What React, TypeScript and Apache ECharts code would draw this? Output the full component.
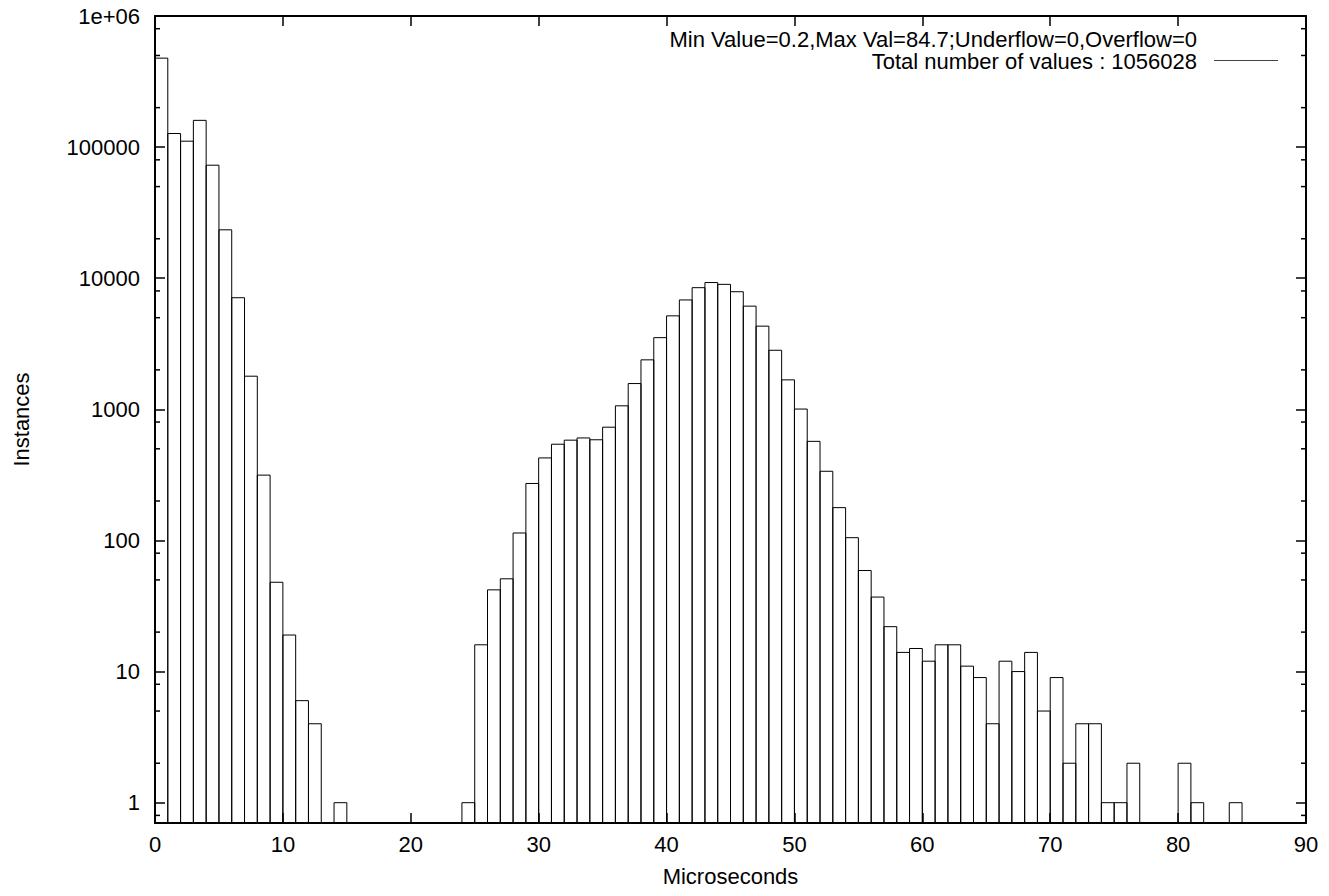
import React, { useEffect, useRef } from 'react';
import * as echarts from 'echarts';

// Histogram bins (start of each 1-microsecond bin) and their counts
const binStarts = [
  0, 1, 2, 3, 4, 5, 6, 7, 8, 9, 10, 11, 12, 14,
  24, 25, 26, 27, 28, 29, 30, 31, 32, 33, 34, 35, 36, 37, 38, 39, 40, 41, 42, 43, 44,
  45, 46, 47, 48, 49, 50, 51, 52, 53, 54, 55, 56, 57, 58, 59, 60, 61, 62, 63, 64,
  65, 66, 67, 68, 69, 70, 71, 72, 73, 74, 75, 76, 80, 81, 84,
];
const counts = [
  477000, 127000, 111000, 160000, 72800, 23400, 7100, 1790, 315, 48, 19, 6, 4, 1,
  1, 16, 42, 51, 114, 272, 426, 542, 582, 605, 586, 731, 1064, 1573, 2385, 3522, 5165, 6830, 8470, 9270, 8980,
  7890, 6125, 4310, 2822, 1678, 1005, 570, 337, 178, 105, 59, 37, 22, 14, 15, 12, 16, 16, 11, 9,
  4, 12, 10, 14, 5, 9, 2, 4, 4, 1, 1, 2, 2, 1, 1,
];
const binWidth = 1;

const xMin = 0;
const xMax = 90;
const xInterval = 10;
const yMin = 0.7;
const yMax = 1e6;
const yTickLabels = ['1', '10', '100', '1000', '10000', '100000', '1e+06'];
const minorMultipliers = [2, 5, 8];

const keyTitle = 'Min Value=0.2,Max Val=84.7;Underflow=0,Overflow=0';
const keyEntry = 'Total number of values : 1056028';
const xName = 'Microseconds';
const yName = 'Instances';

const FONT = '"Liberation Sans", Arial, Helvetica, sans-serif';
const FS = 22;
const KEY_FS = 22;

function yLabel(v: number): string {
  const e = Math.log10(v);
  const r = Math.round(e);
  if (Math.abs(e - r) > 1e-6 || r < 0 || r >= yTickLabels.length) return '';
  return yTickLabels[r];
}

export default function App() {
  const ref = useRef<HTMLDivElement>(null);
  useEffect(() => {
    if (!ref.current) return;
    const chart = echarts.init(ref.current, undefined, { renderer: 'svg' });
    const axisLine = { show: true, onZero: false, lineStyle: { color: '#000', width: 2 } };
    const tickStyle = { show: true, inside: true, length: 10, lineStyle: { color: '#000', width: 1.5 } };
    const baseX = {
      type: 'value' as const,
      min: xMin,
      max: xMax,
      interval: xInterval,
      axisLine,
      axisTick: tickStyle,
      splitLine: { show: false },
    };
    const baseY = {
      type: 'log' as const,
      logBase: 10,
      min: yMin,
      max: yMax,
      axisLine,
      axisTick: tickStyle,
      splitLine: { show: false },
    };
    chart.setOption({
      animation: false,
      backgroundColor: '#fff',
      textStyle: { fontFamily: FONT },
      grid: { left: 155, right: 23, top: 16, bottom: 73, containLabel: false },
      xAxis: [
        {
          ...baseX,
          position: 'bottom',
          name: xName,
          nameLocation: 'middle',
          nameGap: 42,
          nameTextStyle: { color: '#000', fontSize: FS, fontFamily: FONT },
          axisLabel: { color: '#000', fontSize: FS, fontFamily: FONT, margin: 10 },
        },
        { ...baseX, position: 'top', axisLabel: { show: false } },
      ],
      yAxis: [
        {
          ...baseY,
          position: 'left',
          name: yName,
          nameLocation: 'middle',
          nameGap: 123,
          nameRotate: 90,
          nameTextStyle: { color: '#000', fontSize: FS, fontFamily: FONT },
          axisLabel: { color: '#000', fontSize: FS, fontFamily: FONT, margin: 15, formatter: yLabel },
        },
        { ...baseY, position: 'right', axisLabel: { show: false } },
      ],
      series: [
        {
          type: 'custom',
          xAxisIndex: 0,
          yAxisIndex: 0,
          clip: true,
          data: binStarts.map((b, i) => [b, counts[i]]),
          renderItem: (params: any, api: any) => {
            const x0 = api.value(0) as number;
            const v = api.value(1) as number;
            const tl = api.coord([x0, v]);
            const br = api.coord([x0 + binWidth, yMin]);
            return {
              type: 'rect',
              shape: { x: tl[0], y: tl[1], width: br[0] - tl[0], height: br[1] - tl[1] },
              style: { fill: 'rgba(0,0,0,0)', stroke: '#000', lineWidth: 1 },
            };
          },
        },
      ],
    });

    // minor ticks on log axes (2, 5, 8 x 10^k), plus key
    const graphics: any[] = [];
    const leftX = chart.convertToPixel({ xAxisIndex: 0 }, xMin) as number;
    const rightX = chart.convertToPixel({ xAxisIndex: 0 }, xMax) as number;
    for (let k = -1; k < 6; k++) {
      for (const m of minorMultipliers) {
        const v = m * Math.pow(10, k);
        if (v < yMin || v > yMax) continue;
        const y = chart.convertToPixel({ yAxisIndex: 0 }, v) as number;
        graphics.push({ type: 'line', shape: { x1: leftX, y1: y, x2: leftX + 5, y2: y }, style: { stroke: '#000', lineWidth: 1.5 } });
        graphics.push({ type: 'line', shape: { x1: rightX - 5, y1: y, x2: rightX, y2: y }, style: { stroke: '#000', lineWidth: 1.5 } });
      }
    }
    graphics.push({
      type: 'text', x: 1197, y: 39,
      style: { text: keyTitle, fill: '#000', font: `${KEY_FS}px ${FONT}`, lineHeight: 22, textAlign: 'right', textVerticalAlign: 'middle' },
    });
    graphics.push({
      type: 'text', x: 1197, y: 61.5,
      style: { text: keyEntry, fill: '#000', font: `${KEY_FS}px ${FONT}`, lineHeight: 22, textAlign: 'right', textVerticalAlign: 'middle' },
    });
    graphics.push({ type: 'line', shape: { x1: 1214, y1: 60.5, x2: 1278, y2: 60.5 }, style: { stroke: '#444', lineWidth: 1 } });
    chart.setOption({ graphic: graphics });

    return () => chart.dispose();
  }, []);
  return <div ref={ref} style={{ position: 'fixed', left: 0, top: 0, width: 1329, height: 896 }} />;
}
